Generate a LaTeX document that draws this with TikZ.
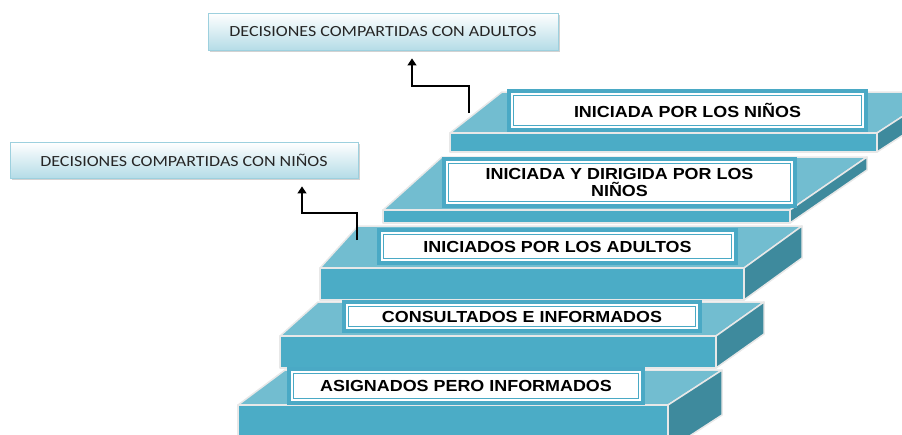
\documentclass[tikz,border=0pt]{standalone}
\usepackage{fontspec}
\usetikzlibrary{arrows.meta,shadows}
\newfontfamily\stepfont[FakeStretch=1.12]{Liberation Sans}
\newfontfamily\decfont[FakeStretch=1.16]{Carlito}
\definecolor{frontblue}{HTML}{4BACC6}
\definecolor{topblue}{HTML}{72BDD0}
\definecolor{sideblue}{HTML}{3E8A9D}
\definecolor{frameblue}{HTML}{4AA9C5}
\definecolor{edgegray}{HTML}{E8E8E8}
\definecolor{decline}{HTML}{9DD0DE}
\definecolor{decfill}{HTML}{B5DCE7}
\begin{document}
\begin{tikzpicture}[x=1pt,y=-1pt,
    stepfront/.style={fill=frontblue,draw=edgegray,line width=1.5pt,line join=round},
    steptop/.style={fill=topblue,draw=edgegray,line width=1.5pt,line join=round},
    stepside/.style={fill=sideblue,draw=edgegray,line width=1.5pt,line join=round},
    levelbox/.style={fill=white,draw=frameblue,line width=0.8pt,double=white,
      double distance=1.6pt,preaction={draw=frameblue,line width=10pt},
      inner sep=0pt,align=center,text=black,
      font=\stepfont\bfseries\fontsize{16}{17}\selectfont},
    decbox/.style={draw=decline,line width=0.8pt,top color=white,bottom color=decfill,
      drop shadow={shadow xshift=1.5pt,shadow yshift=-1.5pt,fill=black!35,opacity=0.5},
      inner sep=0pt,text=black!85,font=\decfont\fontsize{15.5}{18}\selectfont},
    connector/.style={draw=black,line width=1.2pt,-{Triangle[width=9pt,length=7pt]},
      shorten >=8pt}]
  \useasboundingbox (0,0) rectangle (902,434);
  \clip (0,0) rectangle (902,434);

  % step 5
  \draw[steptop] (450,133) -- (502,92) -- (940,92) -- (877,133) -- cycle;
  \draw[stepside] (877,133) -- (940,92) -- (940,111) -- (877,152) -- cycle;
  \draw[stepfront] (450,133) rectangle (877,152);
  \node[levelbox,minimum width=351pt,minimum height=33pt] (ninos) at (687.5,110.5)
    {INICIADA POR LOS NIÑOS};

  % step 4
  \draw[steptop] (383,210) -- (442,157) -- (867,157) -- (790,210) -- cycle;
  \draw[stepside] (790,210) -- (867,157) -- (867,170) -- (790,223) -- cycle;
  \draw[stepfront] (383,210) rectangle (790,223);
  \node[levelbox,minimum width=345pt,minimum height=41pt] (dirig) at (619.5,182.5)
    {INICIADA Y DIRIGIDA POR LOS\\NIÑOS};

  % step 3
  \draw[steptop] (320,268) -- (358,226) -- (802,226) -- (744,268) -- cycle;
  \draw[stepside] (744,268) -- (802,226) -- (802,258) -- (744,300) -- cycle;
  \draw[stepfront] (320,268) rectangle (744,300);
  \node[levelbox,minimum width=351pt,minimum height=27pt] (adult) at (557.5,246.5)
    {INICIADOS POR LOS ADULTOS};

  % step 2
  \draw[steptop] (280,336) -- (318,302) -- (764,302) -- (716,336) -- cycle;
  \draw[stepside] (716,336) -- (764,302) -- (764,334) -- (716,368) -- cycle;
  \draw[stepfront] (280,336) rectangle (716,368);
  \node[levelbox,minimum width=350pt,minimum height=23pt] (consu) at (522,316.5)
    {CONSULTADOS E INFORMADOS};

  % step 1
  \draw[steptop] (238,405) -- (285,370) -- (722,370) -- (668,405) -- cycle;
  \draw[stepside] (668,405) -- (722,370) -- (722,415) -- (668,450) -- cycle;
  \draw[stepfront] (238,405) rectangle (668,450);
  \node[levelbox,minimum width=348pt,minimum height=28pt] (asig) at (466,386)
    {ASIGNADOS PERO INFORMADOS};

  % decisiones compartidas
  \node[decbox,minimum width=350pt,minimum height=37pt] (dadu) at (383,31.5)
    {DECISIONES COMPARTIDAS CON ADULTOS};
  \node[decbox,minimum width=348pt,minimum height=36pt] (dnin) at (184,160)
    {DECISIONES COMPARTIDAS CON NIÑOS};

  \coordinate (c3) at (357,240);
  \coordinate (k3) at (302,213);
  \coordinate (c5) at (469,113);
  \coordinate (k5) at (412,86);
  \draw[connector] (c3) |- (k3) -- (k3 |- dnin.south);
  \draw[connector] (c5) |- (k5) -- (k5 |- dadu.south);
\end{tikzpicture}
\end{document}
